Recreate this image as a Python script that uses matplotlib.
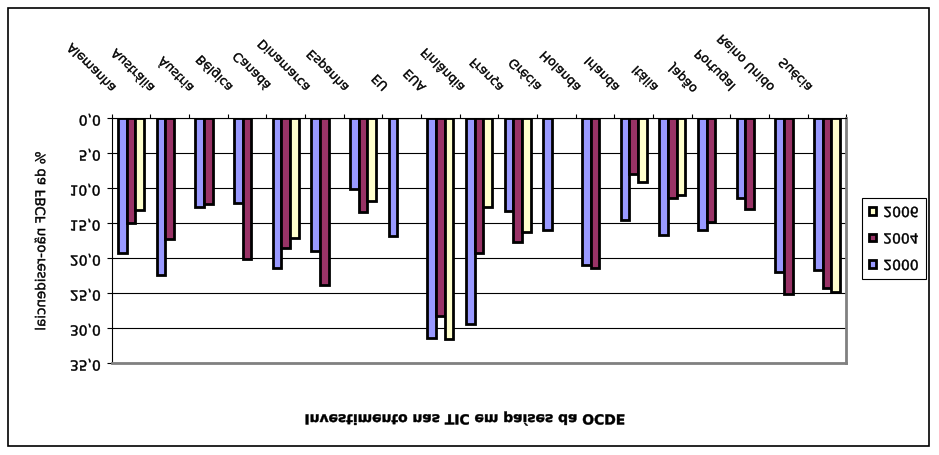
import numpy as np
import matplotlib
matplotlib.use("Agg")
import matplotlib.pyplot as plt
import matplotlib.colors as mcolors
import matplotlib.transforms as mtransforms
from matplotlib.patches import Rectangle
from matplotlib.text import Text
from matplotlib.textpath import TextPath
from matplotlib.ticker import FuncFormatter

W, H = 939, 455

countries = ["Alemanha", "Austrália", "Áustria", "Bélgica", "Canadá", "Dinamarca",
             "Espanha", "EU", "EUA", "Finlândia", "França", "Grécia", "Holanda",
             "Irlanda", "Itália", "Japão", "Portugal", "Reino Unido", "Suécia"]
years = ["2000", "2004", "2006"]
v2000 = [19.2, 22.4, 12.7, 12.1, 21.4, 19.0, 10.1, 16.8, 31.4, 29.4,
         13.2, 15.9, 21.0, 14.5, 16.7, 16.0, 11.4, 22.0, 21.7]
v2004 = [15.0, 17.2, 12.2, 20.1, 18.5, 23.8, 13.4, np.nan, 28.2, 19.2,
         17.6, np.nan, 21.4, 7.9, 11.4, 14.8, 13.0, 25.1, 24.3]
v2006 = [13.1, np.nan, np.nan, np.nan, 17.1, np.nan, 11.8, np.nan, 31.5, 12.7,
         16.3, np.nan, np.nan, 9.1, 10.9, np.nan, np.nan, np.nan, 24.8]
y_ticks = [0, 5, 10, 15, 20, 25, 30, 35]

title = "Investimento nas TIC em países da OCDE"
y_label = "% da FBCF não-residencial"

COLORS = ["#9999FF", "#993366", "#FFFFCC"]


def draw_mirrored(self, renderer):
    # the source picture is flipped top to bottom, glyphs included,
    # so every text is drawn mirrored inside its own box
    s = self.get_text()
    if renderer is None or not self.get_visible() or not s:
        return
    box = self.get_window_extent(renderer)
    path = TextPath((0, 0), s, prop=self.get_fontproperties())
    tr = mtransforms.Affine2D()
    tr.scale(renderer.points_to_pixels(1.0)).rotate_deg(self.get_rotation())
    ext = path.transformed(tr).get_extents()
    tr.translate(-(ext.x0 + ext.x1) / 2, -(ext.y0 + ext.y1) / 2)
    tr.scale(1, -1).translate((box.x0 + box.x1) / 2, (box.y0 + box.y1) / 2)
    rgba = mcolors.to_rgba(self.get_color(), self.get_alpha())
    gc = renderer.new_gc()
    gc.set_foreground(rgba, isRGBA=True)
    gc.set_linewidth(0.3)
    gc.set_antialiased(True)
    renderer.draw_path(gc, path, tr, rgbFace=rgba)
    gc.restore()


Text.draw = draw_mirrored

fig = plt.figure(figsize=(W / 100, H / 100), dpi=100)
ax = fig.add_axes([111.7 / W, (H - 363.3) / H, 734.6 / W, 245.0 / H])

n = len(countries)
bw = 1 / 4.5
x = np.arange(n) + 0.5
handles = []
for j, vals in enumerate([v2000, v2004, v2006]):
    vals = np.asarray(vals, dtype=float)
    ok = ~np.isnan(vals)
    b = ax.bar(x[ok] + (j - 1) * bw, vals[ok], width=bw, color=COLORS[j],
               edgecolor="black", linewidth=2.0, label=years[j])
    handles.append(b)

ax.set_xlim(0, n)
ax.set_ylim(35, 0)
ax.set_axisbelow(True)
ax.yaxis.grid(True, color="black", linewidth=0.8)

ax.set_yticks(y_ticks)
ax.yaxis.set_major_formatter(FuncFormatter(lambda v, p: f"{v:.1f}".replace(".", ",")))
ax.tick_params(axis="y", direction="out", length=3.6, width=0.8, pad=4.3, labelsize=10)

ax.xaxis.tick_top()
ax.set_xticks(np.arange(n + 1))
ax.set_xticklabels([])
ax.tick_params(axis="x", direction="out", length=2.9, width=0.8)

for side in ["top", "left"]:
    ax.spines[side].set_color("black")
    ax.spines[side].set_linewidth(0.8)
for side in ["bottom", "right"]:
    ax.spines[side].set_color("#808080")
    ax.spines[side].set_linewidth(2)

# category names above the plot, slanted
lab_tr = mtransforms.blended_transform_factory(ax.transData, ax.transAxes) + \
    mtransforms.ScaledTranslation(-0.12, 0.25, fig.dpi_scale_trans)
for i, name in enumerate(countries):
    ax.text(x[i], 1, name, transform=lab_tr, rotation=45, ha="right", va="bottom", fontsize=9)

ax.set_ylabel(y_label, fontsize=9.7, va="center")
ax.yaxis.set_label_coords((40 - 111.7) / 734.6, 0.5)

fig.text(465 / W, 1 - 418.5 / H, title, ha="center", va="center", fontsize=10, fontweight="bold")

ax.legend(handles[::-1], years[::-1], loc="upper left",
          bbox_to_anchor=(862 / W, 1 - 198 / H), bbox_transform=fig.transFigure,
          fontsize=10, frameon=True, fancybox=False, edgecolor="black", framealpha=1,
          borderpad=0.5, handlelength=0.5, handleheight=0.5, handletextpad=0.55,
          labelspacing=0.9, borderaxespad=0)
ax.get_legend().get_frame().set_linewidth(0.8)

fig.patches.append(Rectangle((8 / W, (H - 446) / H), 921 / W, 438 / H, transform=fig.transFigure,
                             fill=False, edgecolor="black", linewidth=1.2))

fig.savefig("out.png", dpi=100)
